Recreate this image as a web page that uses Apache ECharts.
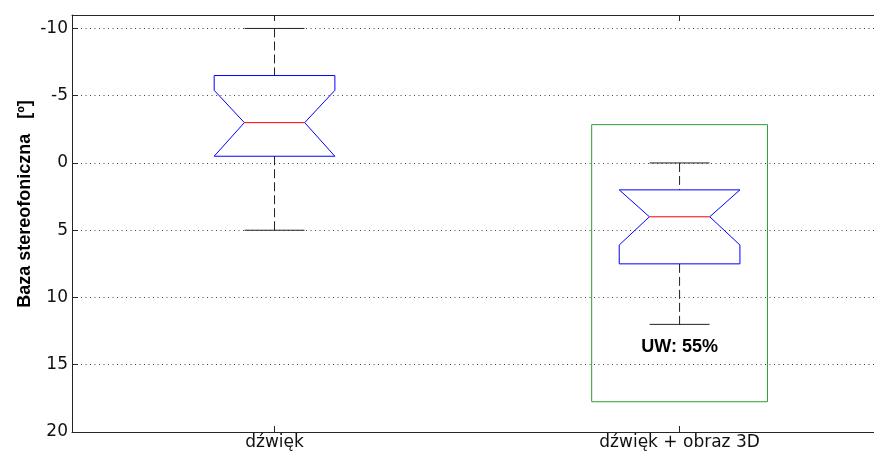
<!DOCTYPE html>
<html>
<head>
<meta charset="utf-8">
<script src="https://cdn.jsdelivr.net/npm/echarts@6/dist/echarts.min.js"></script>
<style>
html,body{margin:0;padding:0;background:#fff;}
#chart{width:874px;height:454px;}
</style>
</head>
<body>
<div id="chart"></div>
<script>
// ---- data ----
const categories = ['dźwięk', 'dźwięk + obraz 3D'];
const positions = [1, 2];
const whiskerTop = [-10, 0];
const boxTop = [-6.5, 2];
const medians = [-3, 4];
const boxBottom = [-0.5, 7.5];
const whiskerBottom = [5, 12];
const notchTop = [-5.4, 2];
const notchBottom = [-0.5, 6.1];
const highlightPosition = 2;
const highlightRange = [-2.85, 17.75];
const annotationText = 'UW: 55%';
const annotationValue = 13.7;
const xMin = 0.5, xMax = 2.48;
const yMin = -11, yMax = 20;
const yTitle = 'Baza stereofoniczna   [º]';

const boxData = categories.map((c, i) => [positions[i], whiskerTop[i], boxTop[i], medians[i], boxBottom[i], whiskerBottom[i], notchTop[i], notchBottom[i]]);

const chart = echarts.init(document.getElementById('chart'));
const FONT = '"DejaVu Sans", sans-serif';
const BOLD = '"Liberation Sans", Arial, sans-serif';

function renderBox(params, api) {
  const x = api.value(0);
  const unit = api.size([1, 0])[0];
  const hw = unit * 0.149, nw = hw / 2, cw = unit * 0.074;
  const cx = api.coord([x, 0])[0];
  const y = v => api.coord([x, v])[1];
  const wt = y(api.value(1)), bt = y(api.value(2)), md = y(api.value(3)),
        bb = y(api.value(4)), wb = y(api.value(5)), nt = y(api.value(6)), nb = y(api.value(7));
  const dash = {stroke: '#222', lineWidth: 1, lineDash: [9, 4], fill: null};
  const solid = {stroke: '#222', lineWidth: 1, fill: null};
  return {
    type: 'group',
    children: [
      {type: 'line', shape: {x1: cx, y1: wt, x2: cx, y2: bt}, style: dash},
      {type: 'line', shape: {x1: cx, y1: bb, x2: cx, y2: wb}, style: dash},
      {type: 'line', shape: {x1: cx - cw, y1: wt, x2: cx + cw, y2: wt}, style: solid},
      {type: 'line', shape: {x1: cx - cw, y1: wb, x2: cx + cw, y2: wb}, style: solid},
      {type: 'polygon', shape: {points: [
        [cx - hw, bt], [cx - hw, nt], [cx - nw, md], [cx - hw, nb], [cx - hw, bb],
        [cx + hw, bb], [cx + hw, nb], [cx + nw, md], [cx + hw, nt], [cx + hw, bt]
      ]}, style: {stroke: '#0000ff', lineWidth: 1, fill: null}},
      {type: 'line', shape: {x1: cx - nw, y1: md, x2: cx + nw, y2: md}, style: {stroke: '#ff0000', lineWidth: 1}}
    ]
  };
}

function renderRect(params, api) {
  const x = api.value(0);
  const unit = api.size([1, 0])[0];
  const hw = unit * 0.217;
  const cx = api.coord([x, 0])[0];
  const y1 = api.coord([x, api.value(1)])[1];
  const y2 = api.coord([x, api.value(2)])[1];
  return {type: 'rect', shape: {x: cx - hw, y: y1, width: 2 * hw, height: y2 - y1},
    style: {stroke: '#2e9e2e', lineWidth: 1, fill: null}};
}

function renderText(params, api) {
  const p = api.coord([api.value(0), api.value(1)]);
  return {type: 'text', x: p[0], y: p[1], style: {text: annotationText, font: 'bold 18px ' + BOLD,
    fill: '#000', align: 'center', verticalAlign: 'middle'}};
}

const labelFor = v => {
  const k = positions.indexOf(Math.round(v));
  return k >= 0 ? categories[k] : '';
};

chart.setOption({
  animation: false,
  backgroundColor: '#fff',
  grid: {left: 72, right: 0, top: 15, bottom: 22, containLabel: false},
  xAxis: [{
    type: 'value', min: xMin, max: xMax, position: 'bottom',
    axisLine: {show: true, onZero: false, lineStyle: {color: '#262626', width: 1}},
    axisTick: {show: true, inside: true, length: 6, customValues: positions, lineStyle: {color: '#262626'}},
    axisLabel: {color: '#111', fontFamily: FONT, fontSize: 17, margin: 2, customValues: positions, formatter: labelFor},
    splitLine: {show: false}
  }, {
    type: 'value', min: xMin, max: xMax, position: 'top',
    axisLine: {show: true, onZero: false, lineStyle: {color: '#262626', width: 1}},
    axisTick: {show: true, inside: true, length: 6, customValues: positions, lineStyle: {color: '#262626'}},
    axisLabel: {show: false}, splitLine: {show: false}
  }],
  yAxis: {
    type: 'value', inverse: true, min: yMin, max: yMax, splitNumber: 6,
    axisLine: {show: true, onZero: false, lineStyle: {color: '#262626', width: 1}},
    axisTick: {show: true, inside: true, length: 6, lineStyle: {color: '#262626'}},
    axisLabel: {color: '#111', fontFamily: FONT, fontSize: 17, margin: 4, showMinLabel: false},
    splitLine: {show: true, lineStyle: {color: '#444', width: 1, type: [1, 3.5]}}
  },
  graphic: [{
    type: 'text', x: 25, y: 204, rotation: Math.PI / 2,
    style: {text: yTitle, font: 'bold 18px ' + BOLD, fill: '#000', align: 'center', verticalAlign: 'middle'}
  }],
  series: [
    {type: 'custom', renderItem: renderRect, data: [[highlightPosition, highlightRange[0], highlightRange[1]]], z: 1, silent: true},
    {type: 'custom', renderItem: renderBox, data: boxData, z: 2, silent: true},
    {type: 'custom', renderItem: renderText, data: [[highlightPosition, annotationValue]], z: 3, silent: true}
  ]
});
</script>
</body>
</html>
